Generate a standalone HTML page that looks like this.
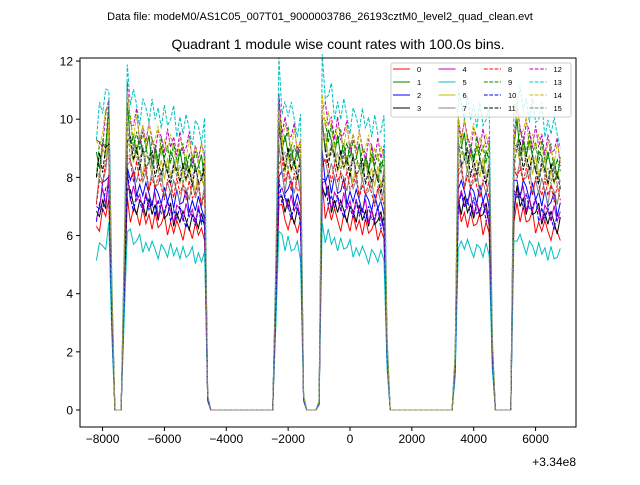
<!DOCTYPE html>
<html><head><meta charset="utf-8"><style>
body{margin:0;background:#fff;}
svg{font-family:"Liberation Sans","DejaVu Sans",sans-serif;}
</style></head><body>
<svg id="chart" width="640" height="480">
<text x="320" y="20" font-size="11" text-anchor="middle">Data file: modeM0/AS1C05_007T01_9000003786_26193cztM0_level2_quad_clean.evt</text>
<text x="338" y="49" font-size="14" text-anchor="middle">Quadrant 1 module wise count rates with 100.0s bins.</text>
<g id="plot"></g>
</svg>
<script>
const times=[];for(let t=-8200;t<=6800;t+=100)times.push(t);
const profile=[.93,.97,1.0,1.03,1.1,.45,0,0,0,.55,1.12,
1.04,1.02,1.02,1.0,1.0,0.99,0.99,0.98,0.98,0.97,0.97,0.96,0.96,0.96,0.95,0.95,0.95,0.94,0.94,0.94,0.93,0.93,0.93,0.92,0.92,
.05,0,0,0,0,0,0,0,0,0,0,0,0,0,0,0,0,0,0,0,0,0,
.5,1.1,1.03,1.0,1.0,0.98,0.97,0.96,0.95,.05,0,0,0,0,0.03,
1.12,1.05,1.04,1.02,1.01,1.0,0.99,0.99,0.98,0.97,0.97,0.96,0.96,0.95,0.95,0.94,0.94,0.93,0.93,0.92,0.92,.25,
0,0,0,0,0,0,0,0,0,0,0,0,0,0,0,0,0,0,0,0,0,
.2,1.03,1.0,1.0,0.99,0.98,0.98,0.97,0.97,0.96,0.96,0.95,.25,0,0,0,0,0,0,
1.0,1.05,1.02,1.01,1.0,0.99,0.98,0.97,0.96,0.96,0.95,0.94,0.94,0.93,0.92,0.92];
const levels=[6.6,9.0,7.6,7.0,7.2,5.7,8.6,8.0,8.0,9.2,7.1,8.6,9.6,10.4,9.5,8.6];
const wob=[0.03,-0.04,0.05,-0.02,0.0,0.06,-0.05,0.02,-0.03,0.04,-0.01,-0.06,0.03,0.01,-0.04,0.05,-0.02];
const colors=['#ff0000','#008000','#0000ff','#000000','#bf00bf','#00bfbf','#bfbf00','#808080'];
const xTicks=[-8000,-6000,-4000,-2000,0,2000,4000,6000];
const yTicks=[0,2,4,6,8,10,12];
const L=80,R=576,T=58,B=427;
const xs=t=>350+t*0.030929;
const ys=v=>410-v*29.08;
const NS='http://www.w3.org/2000/svg';
const g=document.getElementById('plot');
function mk(tag,a,p){const e=document.createElementNS(NS,tag);for(const k in a)e.setAttribute(k,a[k]);(p||g).appendChild(e);return e;}
for(let s=0;s<16;s++){
 const pts=times.map((t,i)=>{const w=profile[i]>0.8?wob[(i+s*5)%wob.length]:0;return xs(t).toFixed(1)+','+ys(profile[i]*levels[s]*(1+w)).toFixed(1);}).join(' ');
 const pl=mk('polyline',{points:pts,fill:'none',stroke:colors[s%8],'stroke-width':1,'stroke-dasharray':s>=8?'3.7,1.6':'none'});
 
 
}
const frame=mk('rect',{x:L,y:T,width:R-L,height:B-T,fill:'none',stroke:'#000','stroke-width':1});


xTicks.forEach(t=>{const x=xs(t);mk('line',{x1:x,x2:x,y1:B,y2:B+4,stroke:'#000'});
 const tx=mk('text',{x:x,y:B+16,'font-size':12,'text-anchor':'middle'});tx.textContent=(t<0?'\u2212'+(-t):t);
 
 });
yTicks.forEach(v=>{const y=ys(v);mk('line',{x1:L-4,x2:L,y1:y,y2:y,stroke:'#000'});
 const tx=mk('text',{x:L-7,y:y+4.5,'font-size':12,'text-anchor':'end'});tx.textContent=v;
 
 });
const off=mk('text',{x:576,y:466,'font-size':12,'text-anchor':'end'});off.textContent='+3.34e8';


const lg=mk('g',{});


mk('rect',{x:391,y:63,width:180,height:54,fill:'#fff','fill-opacity':0.8,stroke:'#ccc',rx:2},lg);
for(let s=0;s<16;s++){const c=Math.floor(s/4),r=s%4;const x=393+c*45.5,y=69+r*13;
 mk('line',{x1:x,x2:x+17,y1:y,y2:y,stroke:colors[s%8],'stroke-dasharray':s>=8?'3.7,1.6':'none'},lg);
 const tx=mk('text',{x:x+24,y:y+3,'font-size':7.5},lg);tx.textContent=s;
 
 }
</script>
</body></html>
